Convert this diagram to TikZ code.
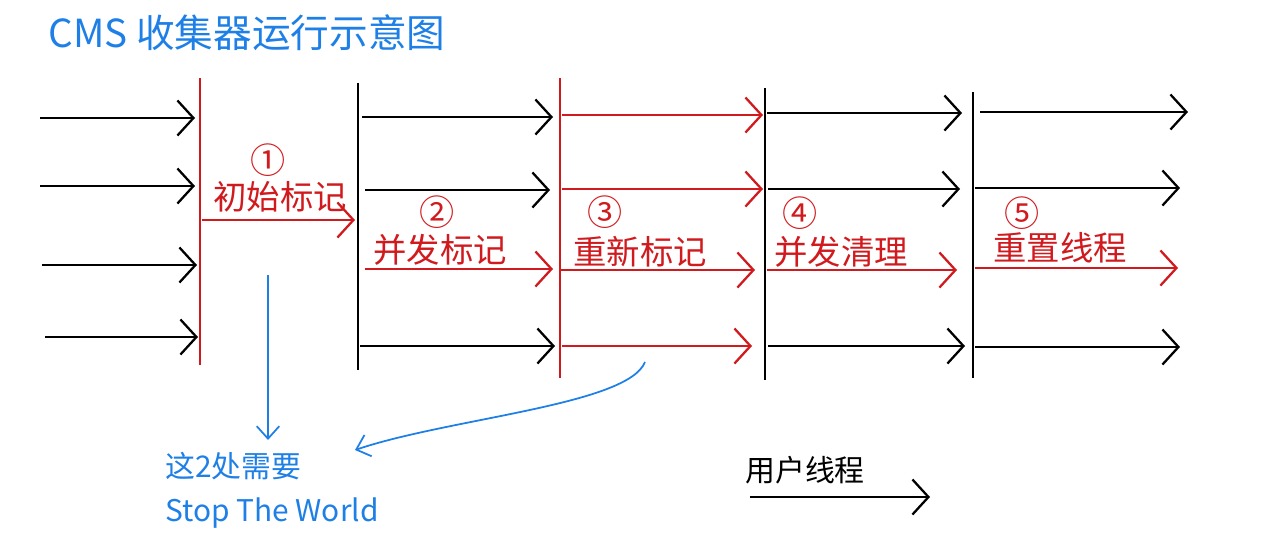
\documentclass[tikz,border=0pt]{standalone}
\usepackage{fontspec}
\setmainfont{Noto Sans CJK SC}
\usetikzlibrary{arrows.meta,positioning}
\definecolor{gcred}{HTML}{D11A1E}
\definecolor{noteblue}{HTML}{1E80E6}

\begin{document}
\begin{tikzpicture}[
  x=0.02cm, y=-0.02cm,
  line/.style={line width=1.3pt},
  arrow/.style={line width=1.3pt, -{Straight Barb[length=3.2mm,width=7mm]}},
  note/.style={noteblue, line width=1pt, -{Straight Barb[length=2.5mm,width=4.5mm]}},
  phase/.style={text=gcred, font=\fontsize{19}{22}\selectfont, inner sep=0pt},
  num/.style={text=gcred, font=\fontsize{20}{22}\selectfont, inner sep=0pt}
]
  \useasboundingbox (0,0) rectangle (1266,558);

  \node[anchor=west, text=noteblue, inner sep=0pt, font=\fontsize{22}{24}\selectfont] (title) at (48,33) {CMS 收集器运行示意图};

  % pauses and phases
  \draw[line, gcred] (200,78) -- (200,365);
  \draw[line] (358,83) -- (358,370);
  \draw[line, gcred] (560,78) -- (560,378);
  \draw[line] (765,88) -- (765,380);
  \draw[line] (973,92) -- (973,378);

  % threads
  \foreach \xa/\xb/\y/\c in {40/195/118/black, 40/195/186/black, 42/197/265/black, 45/198/337/black,
      202/355/220/gcred,
      362/553/117/black, 365/550/190/black, 365/553/269/gcred, 360/555/346/black,
      562/763/115/gcred, 562/763/189/gcred, 560/755/270/gcred, 562/752/346/gcred,
      767/962/113/black, 768/960/189/black, 767/957/270/gcred, 768/965/346/black,
      980/1188/112/black, 975/1180/188/black, 975/1178/268/gcred, 975/1180/347/black}
    \draw[arrow, \c] (\xa,\y) -- (\xb,\y);

  \node[num] (num1) at (268,160) {①};
  \node[phase] (init) at (280,197) {初始标记};
  \node[num] (num2) at (437,212) {②};
  \node[phase] (conc) at (440,250) {并发标记};
  \node[num] (num3) at (605,212) {③};
  \node[phase] (remark) at (640,252) {重新标记};
  \node[num] (num4) at (800,213) {④};
  \node[phase] (sweep) at (841,252) {并发清理};
  \node[num] (num5) at (1022,213) {⑤};
  \node[phase] (reset) at (1060,248) {重置线程};

  % stop the world note
  \node[anchor=north west, align=left, text=noteblue, inner sep=0pt,
    font=\fontsize{17}{25}\selectfont] (stw) at (165,452) {这2处需要\\Stop The World};
  \coordinate (from1) at (268,275);
  \coordinate (tip1) at (268,440);
  \coordinate (from2) at (645,362);
  \coordinate (tip2) at (355,450);
  \draw[note] (from1) -- (tip1);
  \draw[note] (from2) .. controls (628,405) and (450,418) .. (tip2);

  % legend
  \node[anchor=west, font=\fontsize{17}{20}\selectfont, inner sep=0pt] (user) at (745,470) {用户线程};
  \coordinate (ua) at (750,497);
  \coordinate (ub) at (930,497);
  \draw[arrow] (ua) -- (ub);
\end{tikzpicture}
\end{document}
